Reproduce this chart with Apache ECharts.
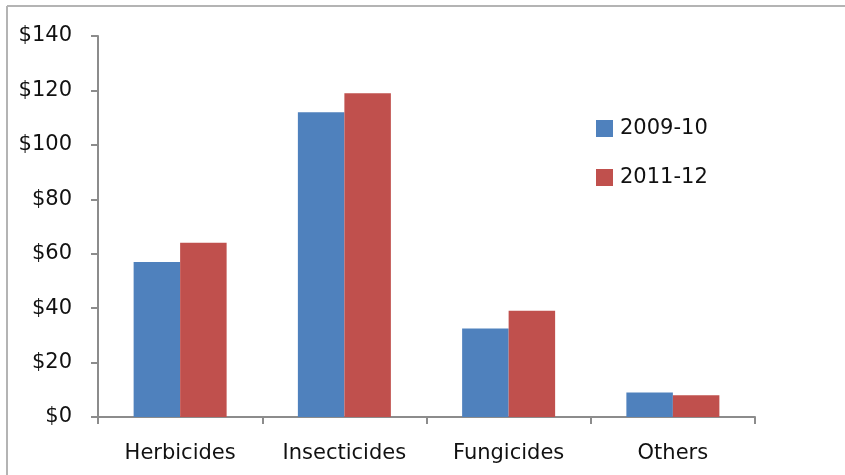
<!DOCTYPE html>
<html>
<head>
<meta charset="utf-8">
<script src="https://cdn.jsdelivr.net/npm/echarts@6/dist/echarts.min.js"></script>
<style>
  html, body { margin: 0; padding: 0; background: #fff; }
  #chart { width: 845px; height: 475px; }
</style>
</head>
<body>
<div id="chart"></div>
<script>
// Pesticide spending by type, two marketing years (dollars)
const categories = ['Herbicides', 'Insecticides', 'Fungicides', 'Others'];
const seriesNames = ['2009-10', '2011-12'];
const values2009 = [57, 112, 32.5, 9];
const values2011 = [64, 119, 39, 8];

const chart = echarts.init(document.getElementById('chart'), null, { renderer: 'canvas' });
const textColor = '#111111';
const axisColor = '#8c8c8c';
const fontFamily = '"DejaVu Sans", sans-serif';

chart.setOption({
  animation: false,
  backgroundColor: '#ffffff',
  graphic: [
    { type: 'line', shape: { x1: 7, y1: 6, x2: 845, y2: 6 }, style: { stroke: '#b4b4b4', lineWidth: 2 } },
    { type: 'line', shape: { x1: 7, y1: 6, x2: 7, y2: 475 }, style: { stroke: '#b4b4b4', lineWidth: 2 } }
  ],
  legend: {
    orient: 'vertical',
    left: 591,
    top: 113,
    itemWidth: 17,
    itemHeight: 17,
    itemGap: 28,
    icon: 'rect',
    textStyle: { color: textColor, fontSize: 21, fontFamily: fontFamily, padding: [0, 0, 0, 2] },
    data: seriesNames
  },
  grid: { left: 98, right: 90, top: 36, bottom: 58, containLabel: false },
  xAxis: {
    type: 'category',
    data: categories,
    axisLine: { lineStyle: { color: axisColor, width: 2 } },
    axisTick: { show: true, length: 7, lineStyle: { color: axisColor, width: 2 } },
    axisLabel: { color: textColor, fontSize: 21, fontFamily: fontFamily, margin: 26 },
    splitLine: { show: false }
  },
  yAxis: {
    type: 'value',
    min: 0,
    max: 140,
    interval: 20,
    axisLine: { show: true, lineStyle: { color: axisColor, width: 2 } },
    axisTick: { show: true, length: 7, lineStyle: { color: axisColor, width: 2 } },
    axisLabel: {
      color: textColor, fontSize: 21, fontFamily: fontFamily, margin: 26,
      formatter: function (v) { return '$' + v; }
    },
    splitLine: { show: false }
  },
  series: [
    {
      name: seriesNames[0], type: 'bar', data: values2009,
      barWidth: 46.5, barGap: '0%',
      itemStyle: { color: '#4F81BD' }
    },
    {
      name: seriesNames[1], type: 'bar', data: values2011,
      barWidth: 46.5, barGap: '0%',
      itemStyle: { color: '#C0504D' }
    }
  ]
});
</script>
</body>
</html>
